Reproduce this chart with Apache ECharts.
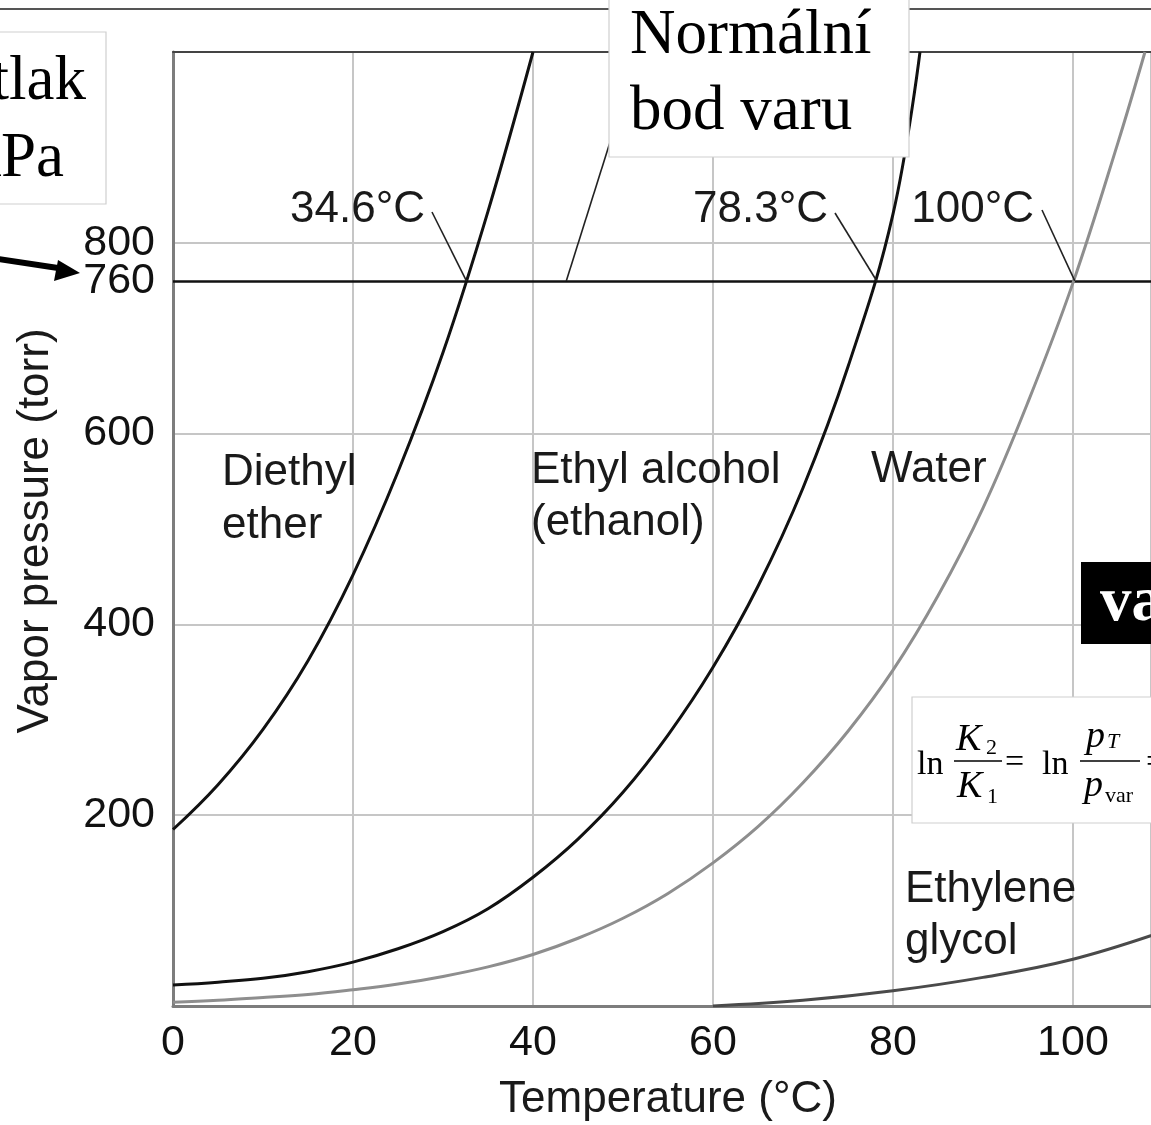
<!DOCTYPE html>
<html><head><meta charset="utf-8">
<script src="https://cdn.jsdelivr.net/npm/echarts@6/dist/echarts.min.js"></script>
<style>html,body{margin:0;padding:0;background:#fff;}#c{width:1151px;height:1125px;}</style>
</head><body><div id="c"></div>
<script>
// ---- data ----
const xTicks = [0, 20, 40, 60, 80, 100];
const xVisibleMax = 108.67;   // the picture is cut off at ~108.7 °C
const yTicks = [200, 400, 600, 800];
const refPressure = 760;

const etherT = [0, 5, 10, 15, 20, 25, 30, 35, 40];
const etherP = [185, 232, 290, 362, 452, 560, 685, 833, 1000];

const ethanolT = [0, 5, 10, 15, 20, 25, 30, 35, 40, 45, 50, 55, 60, 65, 70, 75, 80, 83];
const ethanolP = [22, 25, 29, 36, 46, 60, 78, 102, 135, 175, 224, 284, 355, 440, 543, 670, 830, 1000];

const waterT = [0, 5, 10, 15, 20, 25, 30, 35, 40, 45, 50, 55, 60, 65, 70, 75, 80, 85, 90, 95, 100, 105, 108];
const waterP = [4, 6, 9, 12, 17, 23, 31, 41, 54, 71, 92, 118, 150, 188, 234, 288, 352, 430, 522, 633, 758, 905, 1000];

const glycolT = [60, 70, 80, 90, 100, 110];
const glycolP = [0, 6, 16, 30, 49, 78];

const bpLabels = ['34.6°C', '78.3°C', '100°C'];
const bpDrawnT = [32.6, 78.2, 100.2];
const normalBpLeaderT = 43.7;

const SANS = '"Liberation Sans", Arial, Helvetica, sans-serif';
const SERIF = '"Liberation Serif", "Times New Roman", serif';

function pairs(t, p) { return t.map((v, i) => [v, p[i]]); }

const chart = echarts.init(document.getElementById('c'), null, { renderer: 'canvas' });

function lineSeries(name, t, p, color, extra) {
  return Object.assign({
    name: name, type: 'line', data: pairs(t, p), showSymbol: false,
    smooth: 0.4, silent: true, clip: true,
    lineStyle: { color: color, width: 3 }, z: 5
  }, extra || {});
}

const splitStyle = { show: true, lineStyle: { color: '#c6c6c6', width: 2 } };

const option = {
  animation: false,
  backgroundColor: '#ffffff',
  grid: { left: 173, top: 52, right: 0, bottom: 119, outerBoundsMode: 'none', containLabel: false },
  xAxis: [{
    type: 'value', min: 0, max: xVisibleMax, interval: 20,
    axisLine: { show: true, onZero: false, lineStyle: { color: '#7d7d7d', width: 3 } },
    axisTick: { show: false }, splitLine: splitStyle,
    axisLabel: { fontSize: 43, color: '#111', fontFamily: SANS, margin: 16,
      showMaxLabel: false,
      formatter: v => (xTicks.indexOf(v) >= 0 ? String(v) : '') }
  }, {
    type: 'value', position: 'top', min: 0, max: xVisibleMax, interval: 20,
    axisLine: { show: true, onZero: false, lineStyle: { color: '#444', width: 2 } },
    axisTick: { show: false }, splitLine: { show: false }, axisLabel: { show: false }
  }],
  yAxis: {
    type: 'value', min: 0, max: 1000, interval: 200,
    axisLine: { show: true, lineStyle: { color: '#7d7d7d', width: 3 } },
    axisTick: { show: false }, splitLine: splitStyle,
    axisLabel: { fontSize: 43, color: '#111', fontFamily: SANS, margin: 18,
      formatter: v => (yTicks.indexOf(v) >= 0 ? String(v) : '') }
  },
  series: [
    lineSeries('Diethyl ether', etherT, etherP, '#111', {
      markLine: {
        silent: true, symbol: 'none', animation: false,
        lineStyle: { color: '#111', width: 2.5, type: 'solid' },
        label: { show: true, position: 'start', formatter: String(refPressure), fontSize: 43, color: '#111', fontFamily: SANS, distance: 18 },
        data: [{ yAxis: refPressure }]
      }
    }),
    lineSeries('Ethyl alcohol (ethanol)', ethanolT, ethanolP, '#111'),
    lineSeries('Water', waterT, waterP, '#8e8e8e'),
    lineSeries('Ethylene glycol', glycolT, glycolP, '#4a4a4a')
  ]
};
chart.setOption(option);

function px(t, p) { return chart.convertToPixel({ xAxisIndex: 0, yAxisIndex: 0 }, [t, p]); }

function txt(text, x, y, font, opts, z) {
  return { type: 'text', z: z || 60, silent: true,
    style: Object.assign({ text: text, x: x, y: y, font: font, fill: '#1a1a1a', align: 'left', verticalAlign: 'middle' }, opts || {}) };
}
function ln(x1, y1, x2, y2, w, c, z) {
  return { type: 'line', z: z || 55, silent: true, shape: { x1: x1, y1: y1, x2: x2, y2: y2 }, style: { stroke: c || '#111', lineWidth: w || 1.5 } };
}
function rect(x, y, w, h, fill, stroke, z) {
  return { type: 'rect', z: z || 70, silent: true, shape: { x: x, y: y, width: w, height: h }, style: { fill: fill, stroke: stroke || null, lineWidth: 1.2 } };
}

const g = [];
const F44 = '44px ' + SANS;
const F63 = '63px ' + SERIF;
const F63B = 'bold 63px ' + SERIF;
const TOP = 80;

// slide header rule
g.push(ln(0, 9, 1151, 9, 2, '#555', 50));

// axis names
g.push({ type: 'text', z: 60, silent: true, x: 36, y: 531, rotation: Math.PI / 2,
  style: { text: 'Vapor pressure (torr)', x: 0, y: 0, font: F44, fill: '#1a1a1a', align: 'center', verticalAlign: 'middle' } });
g.push(txt('Temperature (°C)', 668, 1100, F44, { align: 'center' }));

// boiling point labels + leaders
const labelRight = [425, 828, 1034];
const leadStart = [[432, 212], [835, 213], [1042, 210]];
for (let i = 0; i < bpLabels.length; i++) {
  g.push(txt(bpLabels[i], labelRight[i], 210, F44, { align: 'right' }));
  const p = px(bpDrawnT[i], refPressure);
  g.push(ln(leadStart[i][0], leadStart[i][1], p[0], p[1], 1.6, '#222', 55));
}
// leader from "Normální bod varu" box
const nb = px(normalBpLeaderT, refPressure);
g.push(ln(617, 120, nb[0], nb[1], 1.6, '#222', 55));

// curve labels
g.push(txt('Diethyl', 222, 473, F44));
g.push(txt('ether', 222, 526, F44));
g.push(txt('Ethyl alcohol', 531, 471, F44));
g.push(txt('(ethanol)', 531, 523, F44));
g.push(txt('Water', 871, 470, F44));
g.push(txt('Ethylene', 905, 890, F44));
g.push(txt('glycol', 905, 942, F44));

// left box: "... tlak / ... kPa"
g.push(rect(-10, 32, 116, 172, '#fff', '#cfcfcf', 70));
g.push(txt('tlak', 86, 82, F63, { align: 'right', fill: '#000' }, TOP));
g.push(txt('kPa', 64, 159, F63, { align: 'right', fill: '#000' }, TOP));
// arrow to 760
g.push(ln(-2, 259, 58, 268, 6, '#000', 72));
g.push({ type: 'polygon', z: 72, silent: true, shape: { points: [[80, 273], [54, 281], [58, 260]] }, style: { fill: '#000' } });

// "Normální bod varu" box
g.push(rect(609, -5, 300, 162, '#fff', '#cfcfcf', 70));
g.push(txt('Normální', 630, 36, F63, { fill: '#000' }, TOP));
g.push(txt('bod varu', 630, 112, F63, { fill: '#000' }, TOP));

// black box "va"
g.push(rect(1081, 562, 90, 82, '#000', null, 70));
g.push(txt('va', 1100, 604, F63B, { fill: '#fff' }, TOP));

// formula box
g.push(rect(912, 697, 260, 126, '#fff', '#cfcfcf', 70));
const F34 = '34px ' + SERIF, F38I = 'italic 38px ' + SERIF, F22 = '22px ' + SERIF, F22I = 'italic 22px ' + SERIF;
g.push(txt('ln', 917, 765, F34, { fill: '#000' }, TOP));
g.push(txt('K', 956, 740, F38I, { fill: '#000' }, TOP));
g.push(txt('2', 986, 748, F22, { fill: '#000' }, TOP));
g.push(ln(954, 761, 1002, 761, 1.5, '#000', TOP));
g.push(txt('K', 957, 787, F38I, { fill: '#000' }, TOP));
g.push(txt('1', 987, 797, F22, { fill: '#000' }, TOP));
g.push(txt('=', 1005, 763, F34, { fill: '#000' }, TOP));
g.push(txt('ln', 1042, 765, F34, { fill: '#000' }, TOP));
g.push(txt('p', 1086, 737, F38I, { fill: '#000' }, TOP));
g.push(txt('T', 1107, 742, F22I, { fill: '#000' }, TOP));
g.push(ln(1080, 761, 1140, 761, 1.5, '#000', TOP));
g.push(txt('p', 1084, 786, F38I, { fill: '#000' }, TOP));
g.push(txt('var', 1105, 796, F22, { fill: '#000' }, TOP));
g.push(txt('=', 1146, 763, F34, { fill: '#000' }, TOP));

chart.setOption({ graphic: { elements: g } });
</script>
</body></html>
